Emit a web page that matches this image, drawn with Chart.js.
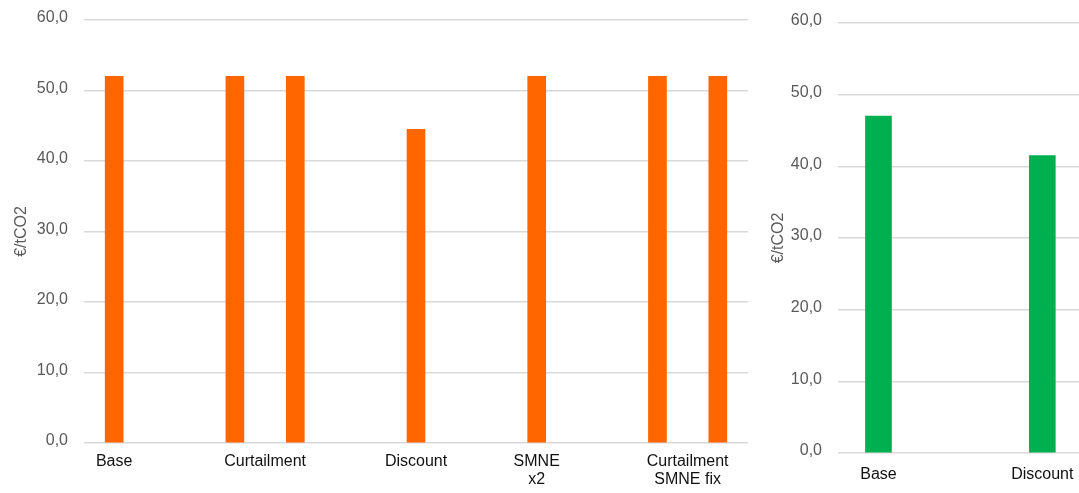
<!DOCTYPE html>
<html>
<head>
<meta charset="utf-8">
<script src="https://cdn.jsdelivr.net/npm/chart.js@4.4.1/dist/chart.umd.min.js"></script>
<style>
  html, body { margin: 0; padding: 0; background: #fff; }
  #wrap { position: relative; width: 1079px; height: 493px; overflow: hidden; }
  #left { position: absolute; left: 0; top: 0; }
  #right { position: absolute; left: 760px; top: 0; }
</style>
</head>
<body>
<div id="wrap">
  <canvas id="left" width="760" height="493"></canvas>
  <canvas id="right" width="319" height="493"></canvas>
</div>
<script>
// Left chart: scenarios (bars sit on slots, labels between/under them)
const leftLabels = ['Base', 'Curtailment', 'Discount', ['SMNE', 'x2'], ['Curtailment', 'SMNE fix']];
const leftLabelSlots = [0, 2.5, 5, 7, 9.5];
const leftBarSlots = [0, 2, 3, 5, 7, 9, 10];
const leftValues = [52.0, 52.0, 52.0, 44.5, 52.0, 52.0, 52.0];

// Right chart
const rightLabels = ['Base', 'Discount'];
const rightBarSlots = [0, 1];
const rightValues = [47.0, 41.5];

const yTicks = [0, 10, 20, 30, 40, 50, 60];
const yTitle = '€/tCO2';

const FONT = "'Liberation Sans Narrow', 'Arial Narrow', 'Liberation Sans', Arial, sans-serif";

function fmt(v) {
    return v.toFixed(1).replace('.', ',');
}

function makeChart(id, opts) {
    const points = opts.slots.map((s, i) => ({ x: s, y: opts.values[i] }));
    return new Chart(document.getElementById(id).getContext('2d'), {
        type: 'bar',
        data: {
            datasets: [{
                data: points,
                backgroundColor: opts.color,
                borderWidth: 0,
                barThickness: opts.barThickness
            }]
        },
        options: {
            responsive: false,
            animation: false,
            layout: { padding: opts.padding },
            plugins: { legend: { display: false }, tooltip: { enabled: false } },
            scales: {
                x: {
                    type: 'linear',
                    offset: false,
                    min: opts.xMin,
                    max: opts.xMax,
                    grid: { display: false, drawTicks: false, offset: false },
                    border: { display: false },
                    afterBuildTicks: function (scale) {
                        scale.ticks = opts.labelSlots.map(v => ({ value: v }));
                    },
                    afterFit: function (scale) {
                        scale.height = opts.xHeight;
                        scale.paddingLeft = 0;
                        scale.paddingRight = 0;
                    },
                    ticks: {
                        autoSkip: false,
                        maxRotation: 0,
                        padding: opts.xPad,
                        color: '#111',
                        font: { family: FONT, size: 16, lineHeight: 1.15 },
                        callback: function (value) {
                            const i = opts.labelSlots.indexOf(value);
                            return i >= 0 ? opts.labels[i] : '';
                        }
                    }
                },
                y: {
                    min: 0,
                    max: 60,
                    afterBuildTicks: function (scale) {
                        scale.ticks = yTicks.map(v => ({ value: v }));
                    },
                    afterFit: function (scale) {
                        scale.width = opts.yWidth;
                        scale.paddingTop = 0;
                        scale.paddingBottom = 0;
                    },
                    grid: { color: '#d9d9d9', lineWidth: 1.5, drawTicks: false },
                    border: { display: false },
                    ticks: {
                        padding: 16,
                        labelOffset: -2,
                        color: '#595959',
                        font: { family: FONT, size: 16 },
                        callback: v => fmt(v)
                    },
                    title: {
                        display: true,
                        text: yTitle,
                        color: '#595959',
                        font: { family: FONT, size: 16 },
                        padding: { top: opts.titlePad, bottom: 0 }
                    }
                }
            }
        }
    });
}

makeChart('left', {
    labels: leftLabels,
    labelSlots: leftLabelSlots,
    slots: leftBarSlots,
    values: leftValues,
    color: '#ff6600',
    barThickness: 18,
    xMin: -0.5,
    xMax: 10.5,
    xHeight: 50,
    xPad: 9,
    yWidth: 84,
    titlePad: 12,
    padding: { top: 20, right: 12, left: 0, bottom: 0 }
});

makeChart('right', {
    labels: rightLabels,
    labelSlots: rightBarSlots,
    slots: rightBarSlots,
    values: rightValues,
    color: '#00b050',
    barThickness: 26,
    xMin: -0.247,
    xMax: 1.224,
    xHeight: 40,
    xPad: 12,
    yWidth: 78,
    titlePad: 9,
    padding: { top: 23, right: 0, left: 0, bottom: 0 }
});
</script>
</body>
</html>
